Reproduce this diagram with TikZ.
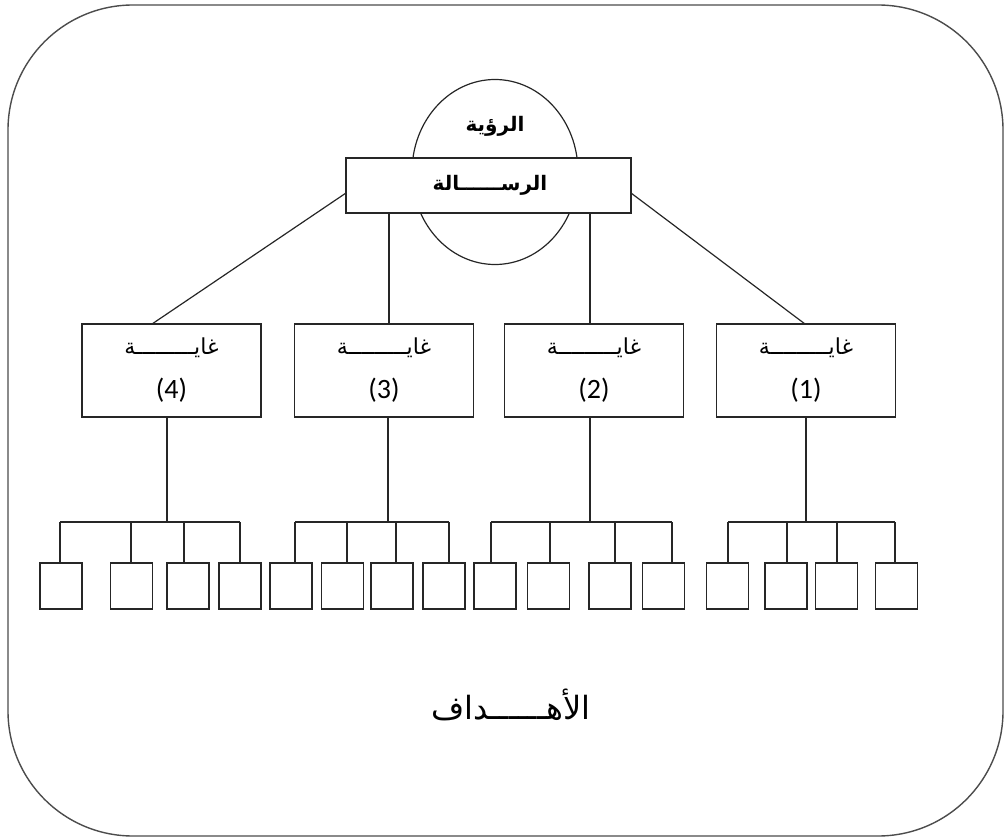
\documentclass[tikz,border=0pt]{standalone}
\usepackage{fontspec}
\setmainfont{Carlito}
\newfontfamily\arabicfont[Script=Arabic]{DejaVu Sans}
\TeXXeTstate=1
\usetikzlibrary{shapes.geometric}
\tikzset{
  ln/.style={draw=black!85, line width=1.2pt},
  frame/.style={draw=black!70, line width=1.4pt, rounded corners=125pt},
  goalbox/.style={ln, rectangle, minimum width=179pt, minimum height=93pt, inner sep=0pt},
  smallbox/.style={ln, rectangle, minimum width=42pt, minimum height=46pt, inner sep=0pt},
  artxt/.style={font=\arabicfont\fontsize{22}{26}\selectfont, inner sep=0pt},
  artxtb/.style={font=\arabicfont\bfseries\fontsize{20}{24}\selectfont, inner sep=0pt},
  numtxt/.style={font=\fontsize{28}{32}\selectfont, inner sep=0pt},
}
\begin{document}
\begin{tikzpicture}[x=1pt,y=-1pt]
\useasboundingbox (0,0) rectangle (1006,840);
\draw[frame] (8,5) rectangle (1003,836);

% vision ellipse and mission box
\node[ln, ellipse, minimum width=166pt, minimum height=185pt, inner sep=0pt] (vision) at (495,172) {};
\node[artxtb] (visiont) at (495,126) {\beginR الرؤية\endR};
\node[ln, fill=white, rectangle, minimum width=285pt, minimum height=55pt, inner sep=0pt] (mission) at (488.5,185.5) {};
\node[artxtb] (missiont) at (490,185) {\beginR الرســــــالة\endR};

% goal boxes
\node[goalbox] (g4) at (171.5,370.5) {};
\node[goalbox] (g3) at (384,370.5) {};
\node[goalbox] (g2) at (594,370.5) {};
\node[goalbox] (g1) at (806,370.5) {};
\foreach \g/\n in {g4/4,g3/3,g2/2,g1/1}{
  \node[artxt] (\g t) at ([yshift=23pt]\g.center) {\beginR غايـــــــــة\endR};
  \node[numtxt] (\g n) at ([yshift=-20pt]\g.center) {(\n)};
}

% connectors mission -> goals
\coordinate (ml) at (346,193);
\coordinate (mr) at (631,193);
\coordinate (m3) at (389,213);
\coordinate (m2) at (590,213);
\coordinate (e4) at (152,324);
\coordinate (e1) at (805,324);
\draw[ln] (ml) -- (e4);
\draw[ln] (mr) -- (e1);
\draw[ln] (m3) -- (m3 |- g3.north);
\draw[ln] (m2) -- (m2 |- g2.north);

% small boxes
\foreach \n/\x in {b41/61,b42/131.5,b43/188,b44/240,
                   b31/291,b32/342.5,b33/392,b34/444,
                   b21/495,b22/548.5,b23/610,b24/663.5,
                   b11/727.5,b12/786,b13/836.5,b14/896.5}{
  \node[smallbox] (\n) at (\x,586) {};
}

% junctions under goals
\coordinate (j4) at (167,522);
\coordinate (j3) at (388,522);
\coordinate (j2) at (590,522);
\coordinate (j1) at (806,522);
\draw[ln] (j4 |- g4.south) -- (j4);
\draw[ln] (j3 |- g3.south) -- (j3);
\draw[ln] (j2 |- g2.south) -- (j2);
\draw[ln] (j1 |- g1.south) -- (j1);

% bars and drops
\foreach \j/\list in {j4/{b41/-1,b42/-0.5,b43/-4,b44/0},
                      j3/{b31/4,b32/4.5,b33/4,b34/5},
                      j2/{b21/-4,b22/1.5,b23/5,b24/8.5},
                      j1/{b11/0.5,b12/1,b13/0.5,b14/-1.5}}{
  \foreach \b/\dx in \list{
    \draw[ln] ([xshift=\dx pt]\b.north) -- ([xshift=\dx pt]\b.north |- \j);
  }
}
\draw[ln] ([xshift=-1pt]b41.north |- j4) -- (b44.north |- j4);
\draw[ln] ([xshift=4pt]b31.north |- j3) -- ([xshift=5pt]b34.north |- j3);
\draw[ln] ([xshift=-4pt]b21.north |- j2) -- ([xshift=8.5pt]b24.north |- j2);
\draw[ln] ([xshift=0.5pt]b11.north |- j1) -- ([xshift=-1.5pt]b14.north |- j1);

% bottom label
\node[font=\arabicfont\fontsize{32}{38}\selectfont, inner sep=0pt] (goals) at (511,705) {\beginR الأهــــــداف\endR};
\end{tikzpicture}
\end{document}
